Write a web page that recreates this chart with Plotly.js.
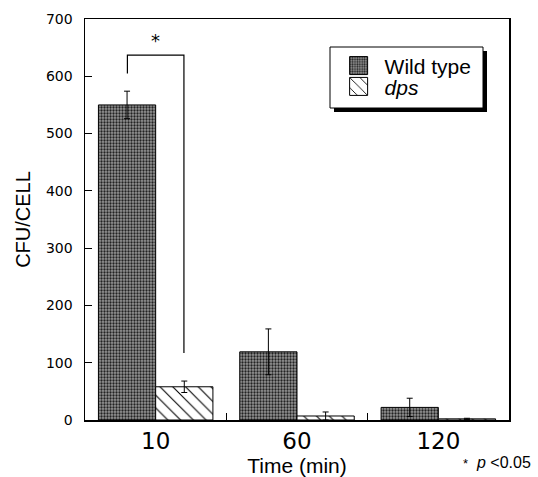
<!DOCTYPE html>
<html>
<head>
<meta charset="utf-8">
<script src="https://cdn.plot.ly/plotly-3.0.1.min.js"></script>
<style>html,body{margin:0;padding:0;background:#fff;}#chart{width:538px;height:477px;}</style>
</head>
<body>
<div id="chart"></div>
<script>
const categories = ["10", "60", "120"];
const wildType = [550, 119, 22];
const wildTypeErr = [24, 40, 16];
const dps = [58, 7, 2];
const dpsErr = [10, 7, 1];
const yTicks = [0, 100, 200, 300, 400, 500, 600, 700];

// significance bracket (data units): between group 0 bars
const bracketLeftY = 605, bracketTopY = 637, bracketRightY = 117, starY = 663;

const traces = [
  {
    type: "bar", name: "Wild type", x: categories, y: wildType, legend: "legend",
    error_y: {type: "data", array: wildTypeErr, visible: true, color: "#000", thickness: 1, width: 3},
    marker: {color: "#888", line: {color: "#000", width: 1},
      pattern: {shape: ".", fgcolor: "#222", bgcolor: "#959595", size: 3, solidity: 0.45}}
  },
  {
    type: "bar", name: "<i>dps</i>", x: categories, y: dps, legend: "legend2",
    error_y: {type: "data", array: dpsErr, visible: true, color: "#000", thickness: 1, width: 3},
    marker: {color: "#fff", line: {color: "#000", width: 1},
      pattern: {shape: "\\", fgcolor: "#000", bgcolor: "#fff", size: 9, solidity: 0.12}}
  }
];

const legFont = {family: "Liberation Sans, Arial, sans-serif", size: 21, color: "#000"};
const legCommon = {xanchor: "left", yanchor: "middle", bgcolor: "rgba(0,0,0,0)", borderwidth: 0,
  font: legFont, itemwidth: 42};

// legend frame in paper coords
const W = 424, H = 401;
const bx0 = (330 - 85) / W, bx1 = (483 - 85) / W, by1 = (420 - 47) / H, by0 = (420 - 108) / H;
const so = 4;

const layout = {
  width: 538, height: 477,
  margin: {l: 85, r: 29, t: 19, b: 57},
  paper_bgcolor: "#fff", plot_bgcolor: "#fff",
  barmode: "group", bargap: 0.19, bargroupgap: 0,
  font: {family: "DejaVu Sans, sans-serif", color: "#000"},
  showlegend: true,
  legend: Object.assign({x: 0.584, y: 0.883}, legCommon),
  legend2: Object.assign({x: 0.584, y: 0.831}, legCommon),
  xaxis: {
    type: "category", categoryorder: "array", categoryarray: categories,
    range: [-0.5, 2.5], tickson: "boundaries", ticks: "inside", ticklen: 7, tickcolor: "#000",
    showline: true, linecolor: "#000", linewidth: 1.5, mirror: true, showgrid: false, zeroline: false,
    tickfont: {size: 23, family: "DejaVu Sans, sans-serif"},
    title: {text: "Time (min)", font: {size: 21, family: "Liberation Sans, Arial, sans-serif"}, standoff: 4}
  },
  yaxis: {
    range: [0, 700], tickvals: yTicks, ticks: "inside", ticklen: 7, tickcolor: "#000",
    showline: true, linecolor: "#000", linewidth: 1.5, mirror: true, showgrid: false, zeroline: false,
    tickfont: {size: 14, family: "DejaVu Sans, sans-serif"}, ticklabelstandoff: 8,
    title: {text: "CFU/CELL", font: {size: 20, family: "Liberation Sans, Arial, sans-serif"}, standoff: 10}
  },
  shapes: [
    {type: "path", xref: "x", yref: "y",
     path: "M -0.2," + bracketLeftY + " L -0.2," + bracketTopY + " L 0.2," + bracketTopY + " L 0.2," + bracketRightY,
     line: {color: "#000", width: 1.2}},
    {type: "rect", xref: "paper", yref: "paper", layer: "above",
     x0: bx0 + so / W, x1: bx1 + so / W, y0: by0 - so / H, y1: by1 - so / H,
     fillcolor: "#000", line: {width: 0}},
    {type: "rect", xref: "paper", yref: "paper", layer: "above",
     x0: bx0, x1: bx1, y0: by0, y1: by1,
     fillcolor: "#fff", line: {color: "#000", width: 1}}
  ],
  annotations: [
    {xref: "x", yref: "y", x: 0, y: starY, text: "*", showarrow: false,
     font: {size: 18, family: "DejaVu Sans, sans-serif"}},
    {xref: "paper", yref: "paper", x: 1.056, y: -0.105, xanchor: "right", yanchor: "middle", showarrow: false,
     text: "<span style='font-size:13px'>*</span>&nbsp;&nbsp;<i>p</i> &lt;0.05",
     font: {size: 16, family: "Liberation Sans, Arial, sans-serif"}}
  ]
};

Plotly.newPlot("chart", traces, layout, {displayModeBar: false, staticPlot: true}).then(function (gd) {
  // enlarge legend swatches to match the reference square size
  gd.querySelectorAll(".legendpoints path").forEach(function (p) {
    p.setAttribute("d", "M9,9H-9V-9H9Z");
  });
});
</script>
</body>
</html>
